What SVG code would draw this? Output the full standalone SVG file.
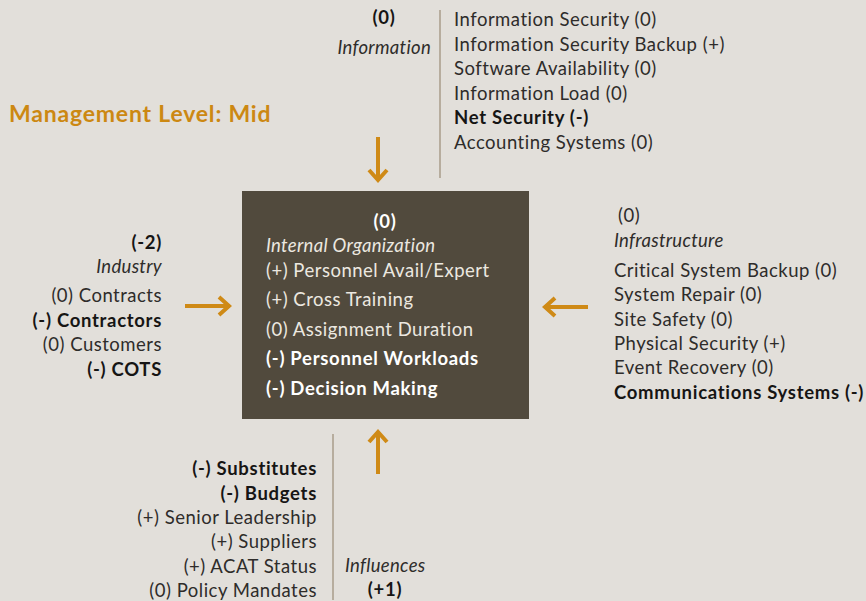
<svg xmlns="http://www.w3.org/2000/svg" width="866" height="601" viewBox="0 0 866 601">
  <style>
    text { font-family: "Lato", "Open Sans", "Liberation Sans", sans-serif; font-size: 18.5px; letter-spacing: 0.5px; fill: #2e2c2a; }
    .b { font-weight: bold; fill: #161514; letter-spacing: 0.7px; }
    .i { font-style: italic; letter-spacing: 0.3px; }
    .w { fill: #ece8e0; }
    .wb { fill: #ffffff; font-weight: bold; letter-spacing: 0.7px; }
    .r { text-anchor: end; }
    .c { text-anchor: middle; }
    .title { font-size: 23px; font-weight: bold; letter-spacing: 0.8px; fill: #cc8812; }
    .arrow { fill: none; stroke: #cf8a16; stroke-width: 4; }
    .rule { stroke: #a89d8a; stroke-width: 1.5; }
  </style>
  <rect width="866" height="601" fill="#e2dfda"/>

  <text class="title" x="9" y="122">Management Level: Mid</text>

  <g id="connectors">
    <line class="rule" x1="440" y1="10" x2="440" y2="178"/>
    <line class="rule" x1="333" y1="434" x2="333" y2="600"/>
    <!-- top: down into box -->
    <path class="arrow" d="M378 137 V180 M369 170 L378 180 L387 170"/>
    <!-- left: right into box -->
    <path class="arrow" d="M185 306 H229 M219 297 L229 306 L219 315"/>
    <!-- right: left into box -->
    <path class="arrow" d="M588 307 H545 M555 298 L545 307 L555 316"/>
    <!-- bottom: up into box -->
    <path class="arrow" d="M378 474 V432 M369 442 L378 432 L387 442"/>
  </g>

  <g id="internal-organization">
    <rect x="242" y="191" width="287" height="228" fill="#514a3d"/>
    <text class="wb c" x="385" y="228">(0)</text>
    <text class="w i" x="266" y="252">Internal Organization</text>
    <text class="w" x="266" y="277">(+) Personnel Avail/Expert</text>
    <text class="w" x="266" y="306">(+) Cross Training</text>
    <text class="w" x="266" y="336">(0) Assignment Duration</text>
    <text class="wb" x="266" y="365">(-) Personnel Workloads</text>
    <text class="wb" x="266" y="395">(-) Decision Making</text>
  </g>

  <g id="information">
    <text class="b c" x="384" y="24">(0)</text>
    <text class="i r" x="431" y="54">Information</text>
    <text x="454" y="26">Information Security (0)</text>
    <text x="454" y="51">Information Security Backup (+)</text>
    <text x="454" y="75">Software Availability (0)</text>
    <text x="454" y="100">Information Load (0)</text>
    <text class="b" x="454" y="124">Net Security (-)</text>
    <text x="454" y="149">Accounting Systems (0)</text>
  </g>

  <g id="industry">
    <text class="b r" x="162" y="249">(-2)</text>
    <text class="i r" x="162" y="273">Industry</text>
    <text class="r" x="162" y="302">(0) Contracts</text>
    <text class="b r" x="162" y="327">(-) Contractors</text>
    <text class="r" x="162" y="351">(0) Customers</text>
    <text class="b r" x="162" y="376">(-) COTS</text>
  </g>

  <g id="infrastructure">
    <text x="618" y="222">(0)</text>
    <text class="i" x="614" y="247">Infrastructure</text>
    <text x="614" y="277">Critical System Backup (0)</text>
    <text x="614" y="301">System Repair (0)</text>
    <text x="614" y="326">Site Safety (0)</text>
    <text x="614" y="350">Physical Security (+)</text>
    <text x="614" y="374">Event Recovery (0)</text>
    <text class="b" x="614" y="399">Communications Systems (-)</text>
  </g>

  <g id="influences">
    <text class="b r" x="317" y="475">(-) Substitutes</text>
    <text class="b r" x="317" y="500">(-) Budgets</text>
    <text class="r" x="317" y="524">(+) Senior Leadership</text>
    <text class="r" x="317" y="548">(+) Suppliers</text>
    <text class="r" x="317" y="573">(+) ACAT Status</text>
    <text class="r" x="317" y="597">(0) Policy Mandates</text>
    <text class="i" x="345" y="572">Influences</text>
    <text class="b c" x="385" y="596">(+1)</text>
  </g>
</svg>
